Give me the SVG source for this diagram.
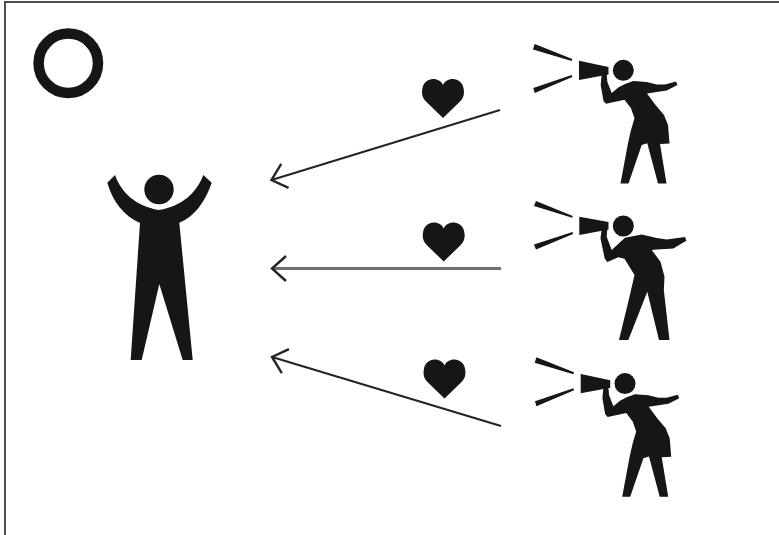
<svg xmlns="http://www.w3.org/2000/svg" width="779" height="535" viewBox="0 0 779 535">
<style>
.ink{fill:#161314;stroke:none}
.frame{fill:none;stroke:#4d4d4d;stroke-width:2}
.conn{fill:none;stroke:#262424;stroke-width:2;marker-end:url(#open)}
.conn.mid{stroke:#707070;stroke-width:3}
</style>
<defs>
<filter id="soft" x="-5%" y="-5%" width="110%" height="110%"><feGaussianBlur stdDeviation="0.5"/></filter>
<marker id="open" markerUnits="userSpaceOnUse" markerWidth="40" markerHeight="40" viewBox="-20 -20 40 40" refX="0" refY="0" orient="auto" overflow="visible">
<path d="M-14,-12.5 L0,0 L-14,12.5" fill="none" stroke="#262424" stroke-width="2.4"/>
</marker>
<path id="heart" d="M0,39 L-17,22.5 C-21,18.5 -21.5,14 -20.5,9 C-19.5,3.5 -15,0 -10,0 C-5,0 -1.5,2.5 0,6 C1.5,2.5 5,0 10,0 C15,0 19.5,3.5 20.5,9 C21.5,14 21,18.5 17,22.5 Z"/>
<g id="woman-a">
<circle cx="623.3" cy="70.3" r="10.5"/>
<polygon points="534.7,44 572.3,59 571.7,61 533,49.5"/>
<polygon points="533.3,88 571.7,75 572.3,77 534.7,93"/>
<polygon points="579,60.7 608.5,67 608.5,74.5 579,80"/>
<path d="M601.7,74 L606.7,74 L607.3,81.7 L611.7,93 L618.3,87.5 L625,84 L633.3,81 L646.7,82 L656.7,84.5 L665,84.5 L676,81.5 L677.5,85 L666.7,90.5 L656.7,92 L647,93.5 L655.5,105 L664,115 L668,125 L669.5,143.5 L660,144 L666.5,183.5 L658,183.5 L647.3,143.3 L641.7,145 L628.5,183.5 L620.5,183.5 L628,143.3 L631,130 L634.5,118.3 L631,108.3 L624.5,99.8 L606,103.8 L603.5,101 L600.7,85 Z"/>
</g>
</defs>
<rect width="779" height="535" fill="#fff"/>
<g filter="url(#soft)">
<path class="frame" d="M779,2 H5 V535"/>
<circle id="sun" cx="68.3" cy="63.3" r="29.7" fill="none" stroke="#161314" stroke-width="10.5"/>
<g id="connectors">
<line class="conn" x1="500" y1="110" x2="271.5" y2="180"/>
<line class="conn mid" x1="501" y1="268.5" x2="272" y2="268.5"/>
<line class="conn" x1="501" y1="426" x2="272" y2="357"/>
</g>
<g id="heart-1" class="ink"><use href="#heart" x="443" y="79"/></g>
<g id="heart-2" class="ink"><use href="#heart" x="443.7" y="222.5"/></g>
<g id="heart-3" class="ink"><use href="#heart" x="444.5" y="359.5"/></g>
<g id="man" class="ink">
<circle cx="159" cy="189.5" r="14.7"/>
<path d="M107.3,182.7 L115,175 C121,192 135,206 159,210 C183,206 197,192 203.3,175 L211.7,182.7 C205,202 195,216 179.3,222.7 L192.7,360 L182.7,360 L159.3,284 L141.7,360 L130.7,360 L140,223 C124,216 113,202 107.3,182.7 Z"/>
</g>
<g id="woman-1" class="ink"><use href="#woman-a"/></g>
<g id="woman-2" class="ink">
<circle cx="623.3" cy="226" r="10.5"/>
<polygon points="536,201 572.7,216 572.3,217.8 534,206"/>
<polygon points="534,244.5 572.5,232 573,234 536,249.5"/>
<polygon points="579.3,216.7 608.5,222 608.5,229.5 579.3,235"/>
<path d="M601.7,229 L607.3,229 L606.7,236.7 L611.7,250 L625,237.8 L641.7,234.5 L656.7,238 L666.7,239.5 L685,237 L686.3,240.7 L673.3,248.5 L656.7,249.5 L651.7,250 L660.5,261.7 L664.5,276.7 L663.8,290 L669.5,340 L659,340 L647.3,291.7 L628.3,340 L619,340 L629.5,296.7 L634.5,275 L624.5,258.8 L618.3,257.2 L607.3,262 L604.7,258.5 L600.5,238.3 Z"/>
</g>
<g id="woman-3" class="ink" transform="translate(1.7 313.3)"><use href="#woman-a"/></g>
</g>
</svg>
